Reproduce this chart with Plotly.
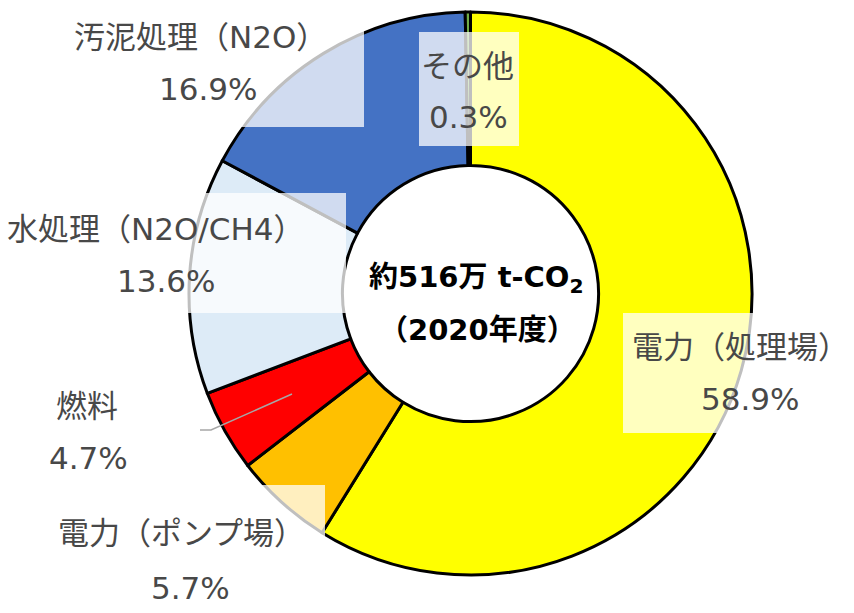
import plotly.graph_objects as go

# ---- data ----
categories = ["電力（処理場）", "電力（ポンプ場）", "燃料", "水処理（N2O/CH4）", "汚泥処理（N2O）", "その他"]
shares = [58.9, 5.7, 4.7, 13.6, 16.9, 0.3]
pct_labels = ["58.9%", "5.7%", "4.7%", "13.6%", "16.9%", "0.3%"]
colors = ["#FFFF00", "#FFC000", "#FF0000", "#DDEBF7", "#4472C4", "#70AD47"]
center_line1 = "約516万 t-CO<sub>2</sub>"
center_line2 = "（2020年度）"

W, H = 854, 613


def px(x):
    return x / W


def py(y):
    return 1 - y / H


fig = go.Figure(
    go.Pie(
        labels=categories,
        values=shares,
        sort=False,
        direction="clockwise",
        rotation=0,
        hole=0.455,
        marker=dict(colors=colors, line=dict(color="black", width=3)),
        textinfo="none",
        hoverinfo="none",
        domain=dict(x=[px(189), px(752)], y=[py(575), py(12)]),
    )
)

# label boxes (semi-transparent white, drawn over the ring)
boxes = [
    (44, 0, 364, 127),     # 汚泥処理
    (419, 32, 519, 146),   # その他
    (0, 193, 346, 313),    # 水処理
    (45, 485, 325, 640),   # ポンプ場
    (623, 313, 870, 433),  # 処理場
]
shapes = []
for x0, y0, x1, y1 in boxes:
    shapes.append(dict(type="rect", xref="paper", yref="paper",
                       x0=px(x0), x1=px(x1), y0=py(y1), y1=py(y0),
                       fillcolor="rgba(255,255,255,0.75)", line=dict(width=0),
                       layer="above"))
# leader line for 燃料
shapes.append(dict(type="path", xref="paper", yref="paper",
                   path=f"M {px(200)} {py(430)} L {px(211)} {py(430)} L {px(292)} {py(394)}",
                   line=dict(color="#A6A6A6", width=1.5), layer="above"))

# label text positions (name line, percent line)
label_pos = {
    "電力（処理場）": ((740, 347), (750, 399)),
    "電力（ポンプ場）": ((181, 533), (190, 588)),
    "燃料": ((87, 406), (88, 458)),
    "水処理（N2O/CH4）": ((155, 229), (166, 281)),
    "汚泥処理（N2O）": ((200, 37), (208, 89)),
    "その他": ((467, 66), (468, 117)),
}
font_lbl = dict(family="DejaVu Sans, Noto Sans CJK JP", size=31, color="#484848")
annotations = []
for cat, pct in zip(categories, pct_labels):
    (x1, y1), (x2, y2) = label_pos[cat]
    annotations.append(dict(text=cat, x=px(x1), y=py(y1), xref="paper", yref="paper",
                            showarrow=False, xanchor="center", yanchor="middle", font=font_lbl))
    annotations.append(dict(text=pct, x=px(x2), y=py(y2), xref="paper", yref="paper",
                            showarrow=False, xanchor="center", yanchor="middle", font=font_lbl))

font_center = dict(family="DejaVu Sans, Noto Sans CJK JP", size=29, color="black")
annotations.append(dict(text=f"<b>{center_line1}</b>", x=px(477), y=py(279), xref="paper", yref="paper",
                        showarrow=False, xanchor="center", yanchor="middle", font=font_center))
annotations.append(dict(text=f"<b>{center_line2}</b>", x=px(478), y=py(330), xref="paper", yref="paper",
                        showarrow=False, xanchor="center", yanchor="middle", font=font_center))

fig.update_layout(
    width=W, height=H,
    margin=dict(l=0, r=0, t=0, b=0),
    paper_bgcolor="white", plot_bgcolor="white",
    showlegend=False,
    shapes=shapes,
    annotations=annotations,
)

fig.write_html("out.html", config={"displayModeBar": False},
               post_script="document.body.style.margin='0';")
